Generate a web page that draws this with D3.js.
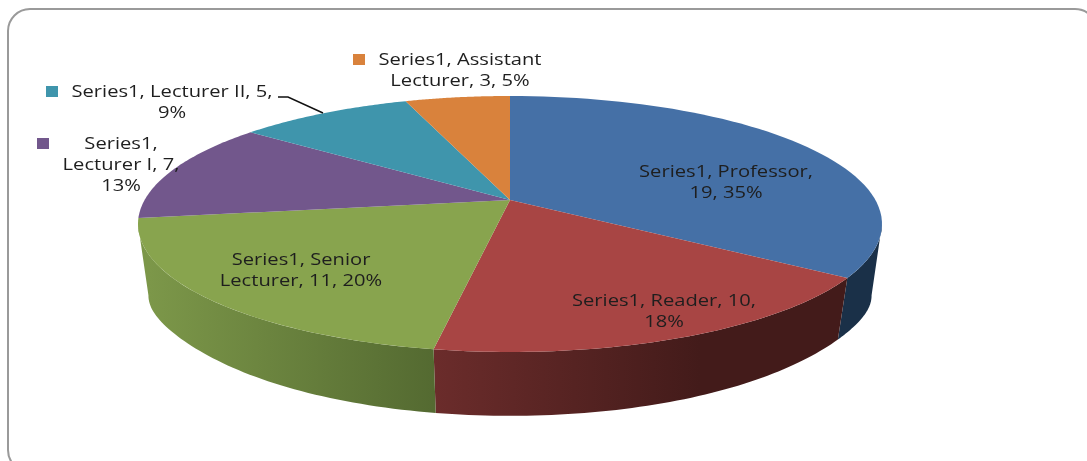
<!DOCTYPE html>
<html><head><meta charset="utf-8">
<script src="https://cdn.jsdelivr.net/npm/d3@7"></script>
<style>html,body{margin:0;padding:0;background:#fff;overflow:hidden}svg{display:block}text{font-family:"Open Sans",sans-serif;font-size:16px;fill:#1e1e1e}</style>
</head><body><svg id="c" width="1087" height="461"></svg>
<script>
const categories=["Professor","Reader","Senior Lecturer","Lecturer I","Lecturer II","Assistant Lecturer"];
const values=[19,10,11,7,5,3];
const topColors=["#4570a6","#a84544","#88a44e","#72578c","#3f95ac","#d9823c"];
const sideStart=["#1a3048","#6b2c2b","#7c9749","#4a3860","#2a6676","#8f5525"];
const sideEnd=["#1a3048","#431b1a","#546a31","#4a3860","#2a6676","#8f5525"];
const labelLines=[["Series1, Professor,","19, 35%"],["Series1, Reader, 10,","18%"],["Series1, Senior","Lecturer, 11, 20%"],["Series1,","Lecturer I, 7,","13%"],["Series1, Lecturer II, 5,","9%"],["Series1, Assistant","Lecturer, 3, 5%"]];
const labelCentre=[[726,177],[664,306],[301,265],[121,149],[172,97],[460,65]];
const swatchAt=[null,null,null,[37,138],[46,86],[353,54]];

const svg=d3.select("#c");
const defs=svg.append("defs");
const soft=defs.append("filter").attr("id","soft");
soft.append("feGaussianBlur").attr("stdDev",0.45);

svg.append("rect").attr("x",8).attr("y",9).attr("width",1089).attr("height",463).attr("rx",22)
  .attr("fill","#fff").attr("stroke","#9a9a9a").attr("stroke-width",2);

// perspective projection of the pie's discs
const cx=510,cy=200,R=365.4,S=123.5,p=0.1875;
const upper=a=>{const w=1+p*Math.cos(a);return [cx+R*Math.sin(a)/w,cy-S*Math.cos(a)/w];};
const lower=a=>{const w=1+p*Math.cos(a);return [cx+0.972*R*Math.sin(a)/w,255.5-1.055*S*Math.cos(a)/w+18*Math.pow(Math.sin(a),12)];};
const arcs=d3.pie().sort(null)(values);
const samples=(a,b)=>d3.range(0,61).map(i=>a+(b-a)*i/60);
const line=d3.line();
// only the part of the rim facing the viewer has a visible side wall
const rimFrom=Math.acos(-p),rimTo=2*Math.PI-rimFrom;

const gp=defs.selectAll("linearGradient").data(arcs).join("linearGradient")
  .attr("id",(d,i)=>"g"+i).attr("gradientUnits","userSpaceOnUse")
  .attr("x1",(d,i)=>i==1?434:i==2?149:0).attr("x2",(d,i)=>i==1?700:i==2?434:1).attr("y1",0).attr("y2",0);
gp.append("stop").attr("offset",0).attr("stop-color",(d,i)=>sideStart[i]);
gp.append("stop").attr("offset",1).attr("stop-color",(d,i)=>sideEnd[i]);

const g=svg.append("g");
g.selectAll("path.side").data(arcs.slice(0,3)).join("path").attr("class","side")
  .attr("d",d=>{const s=samples(Math.max(d.startAngle,rimFrom),Math.min(d.endAngle,rimTo));return line([...s.map(upper),...s.slice().reverse().map(lower)])+"Z";})
  .attr("fill",(d,i)=>i==0?sideStart[0]:`url(#g${i})`);
g.selectAll("path.top").data(arcs).join("path").attr("class","top")
  .attr("d",d=>line([[cx,cy],...samples(d.startAngle,d.endAngle).map(upper)])+"Z")
  .attr("fill",(d,i)=>topColors[i]);

svg.append("path").attr("d",line([[278,97],[288,97],[323,113]])).attr("fill","none").attr("stroke","#111").attr("stroke-width",1.5);

const lab=svg.append("g").attr("filter","url(#soft)");
categories.forEach((c,i)=>{
  labelLines[i].forEach((t,j)=>lab.append("text")
    .attr("transform",`translate(${labelCentre[i][0]},${labelCentre[i][1]+j*21}) scale(1.26,1)`)
    .attr("text-anchor","middle").text(t));
  if(swatchAt[i]) svg.append("rect").attr("x",swatchAt[i][0]).attr("y",swatchAt[i][1]).attr("width",12).attr("height",11).attr("fill",topColors[i]);
});
</script></body></html>
